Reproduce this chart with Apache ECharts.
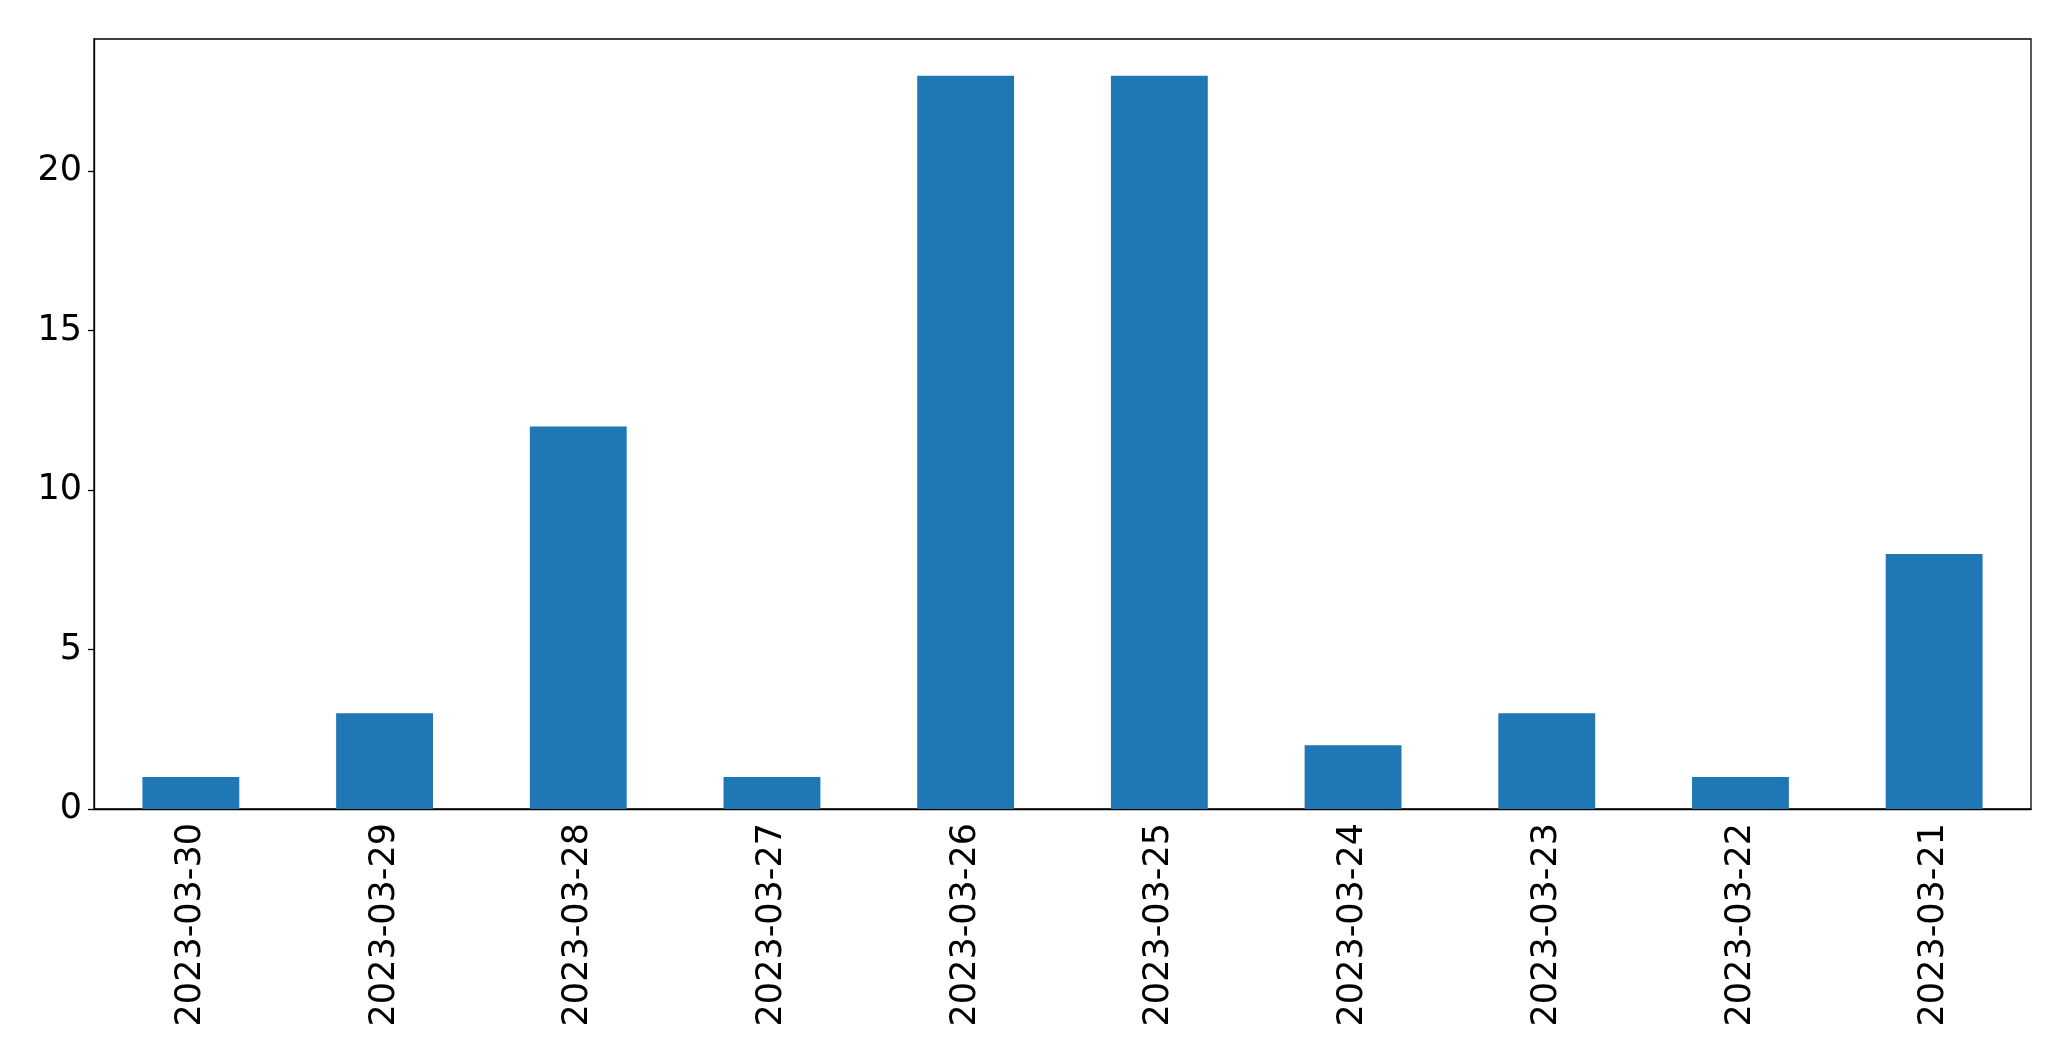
<!DOCTYPE html>
<html>
<head>
<meta charset="utf-8">
<script src="https://cdn.jsdelivr.net/npm/echarts@6/dist/echarts.min.js"></script>
<style>html,body{margin:0;padding:0;background:#fff;}#c{width:2071px;height:1061px;}</style>
</head>
<body>
<div id="c"></div>
<script>
const categories = ["2023-03-30","2023-03-29","2023-03-28","2023-03-27","2023-03-26","2023-03-25","2023-03-24","2023-03-23","2023-03-22","2023-03-21"];
const values = [1, 3, 12, 1, 23, 23, 2, 3, 1, 8];
const yTicks = [0, 5, 10, 15, 20];

const chart = echarts.init(document.getElementById('c'), null, {renderer: 'canvas'});
const font = 'DejaVu Sans';
chart.setOption({
  animation: false,
  backgroundColor: '#fff',
  grid: {left: 94, top: 39, right: 40, bottom: 252, show: true, borderColor: '#000', borderWidth: 1.3, containLabel: false},
  xAxis: {
    type: 'category',
    data: categories,
    axisLine: {lineStyle: {color: '#000', width: 1.3}},
    axisTick: {alignWithLabel: true, length: 6, lineStyle: {color: '#000', width: 1.3}},
    axisLabel: {rotate: 90, margin: 14, color: '#000', fontFamily: font, fontSize: 35},
    splitLine: {show: false}
  },
  yAxis: {
    type: 'value',
    min: 0,
    max: 24.15,
    interval: 5,
    axisLine: {show: true, lineStyle: {color: '#000', width: 1.3}},
    axisTick: {show: true, length: 6, customValues: yTicks, lineStyle: {color: '#000', width: 1.3}},
    axisLabel: {
      margin: 12, color: '#000', fontFamily: font, fontSize: 35,
      padding: [10, 0, 0, 0],
      customValues: yTicks
    },
    splitLine: {show: false}
  },
  series: [{
    type: 'bar',
    data: values,
    barWidth: '50%',
    itemStyle: {color: '#1f77b4'}
  }]
});
</script>
</body>
</html>
